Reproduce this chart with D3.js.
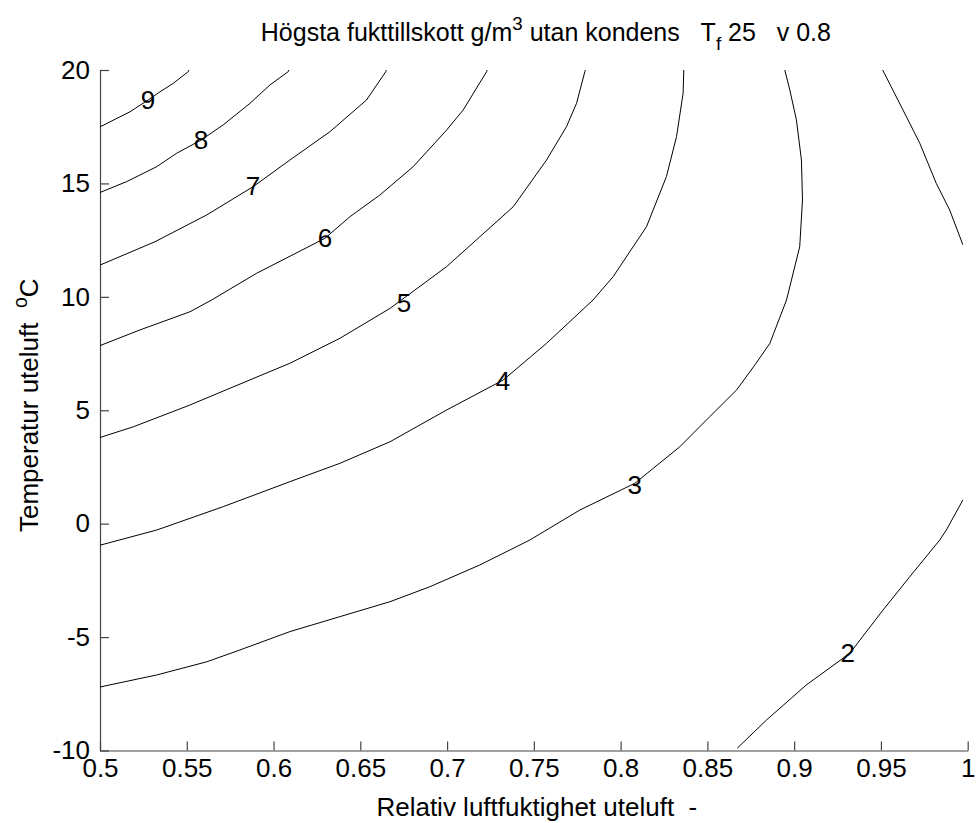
<!DOCTYPE html>
<html>
<head>
<meta charset="utf-8">
<script src="https://cdn.jsdelivr.net/npm/d3@7"></script>
<style>
  html, body { margin: 0; padding: 0; background: #fff; }
  svg { display: block; }
  text { font-family: "Liberation Sans", Arial, Helvetica, sans-serif; fill: #000; }
</style>
</head>
<body>
<svg id="chart" width="976" height="823"></svg>
<script>
// ---------- data ----------
const xTicks = [0.5, 0.55, 0.6, 0.65, 0.7, 0.75, 0.8, 0.85, 0.9, 0.95, 1.0];
const xTickLabels = ["0.5", "0.55", "0.6", "0.65", "0.7", "0.75", "0.8", "0.85", "0.9", "0.95", "1"];
const yTicks = [-10, -5, 0, 5, 10, 15, 20];
const yTickLabels = ["-10", "-5", "0", "5", "10", "15", "20"];

// contour lines: [relative humidity, outdoor temperature]
const level9 = [[0.5, 17.5], [0.5023, 17.58], [0.5173, 18.16], [0.5278, 18.68], [0.5346, 19.04], [0.5422, 19.41], [0.5509, 19.93], [0.5512, 20]];
const level8 = [[0.5, 14.6], [0.5154, 15.08], [0.5327, 15.74], [0.5442, 16.33], [0.5582, 16.91], [0.5710, 17.58], [0.5864, 18.53], [0.5979, 19.34], [0.6085, 19.93], [0.6088, 20]];
const level7 = [[0.5, 11.4], [0.5317, 12.43], [0.5615, 13.61], [0.5883, 14.86], [0.6094, 16.03], [0.6325, 17.28], [0.6536, 18.68], [0.6647, 19.93], [0.665, 20]];
const level6 = [[0.5, 7.85], [0.5230, 8.54], [0.5518, 9.34], [0.5643, 9.86], [0.5903, 11.04], [0.6296, 12.58], [0.6440, 13.53], [0.6613, 14.49], [0.6805, 15.74], [0.6997, 17.35], [0.7093, 18.24], [0.7228, 19.93], [0.7231, 20]];
const level5 = [[0.5, 3.8], [0.5192, 4.27], [0.5518, 5.23], [0.5749, 5.97], [0.6094, 7.07], [0.6382, 8.17], [0.6671, 9.49], [0.6815, 10.30], [0.6997, 11.33], [0.7189, 12.65], [0.7381, 13.97], [0.7573, 16.03], [0.7688, 17.50], [0.7746, 18.53], [0.7794, 19.93], [0.7797, 20]];
const level4 = [[0.5, -0.95], [0.5327, -0.28], [0.5710, 0.75], [0.6094, 1.85], [0.6382, 2.66], [0.6671, 3.61], [0.6997, 5.01], [0.7323, 6.33], [0.7573, 7.95], [0.7841, 9.86], [0.7957, 10.89], [0.8149, 13.09], [0.8264, 15.30], [0.8322, 17.06], [0.8360, 18.97], [0.8364, 20]];
const level3 = [[0.5, -7.2], [0.5327, -6.67], [0.5615, -6.09], [0.5806, -5.57], [0.6094, -4.76], [0.6382, -4.10], [0.6671, -3.44], [0.6901, -2.78], [0.7189, -1.82], [0.7477, -0.72], [0.7765, 0.60], [0.8082, 1.78], [0.8341, 3.39], [0.8514, 4.72], [0.8668, 5.89], [0.8773, 6.99], [0.8860, 7.95], [0.8956, 9.86], [0.9032, 12.21], [0.9048, 14.27], [0.9042, 16.03], [0.9013, 17.80], [0.8975, 19.12], [0.8946, 20]];
const level2a = [[0.9510, 20], [0.9627, 18.24], [0.9724, 16.77], [0.9819, 15.0], [0.9896, 13.83], [0.9972, 12.3]];
const level2b = [[0.8672, -9.9], [0.8840, -8.66], [0.9070, -7.11], [0.9320, -5.72], [0.9512, -3.81], [0.9666, -2.34], [0.9839, -0.72], [0.9877, -0.28], [0.9972, 1.04]];
const contourLines = [level9, level8, level7, level6, level5, level4, level3, level2a, level2b];

// inline contour labels
const labelLevels = ["9", "8", "7", "6", "5", "4", "3", "2"];
const labelRH = [0.5277, 0.5582, 0.5881, 0.6296, 0.6751, 0.7322, 0.8082, 0.9309];
const labelT = [18.68, 16.91, 14.89, 12.59, 9.73, 6.29, 1.70, -5.70];

// ---------- layout ----------
const svg = d3.select("#chart");
const m = { left: 100, top: 70, right: 976 - 967.7, bottom: 823 - 750.5 };
const W = 976 - m.left - m.right, H = 823 - m.top - m.bottom;
const FS = 26;
const TFS = 25;

const x = d3.scaleLinear().domain([0.5, 1]).range([0, W]);
const y = d3.scaleLinear().domain([-10, 20]).range([H, 0]);

const g = svg.append("g").attr("transform", `translate(${m.left},${m.top})`);

// axes (MATLAB-style, inward ticks, no box)
const xAxis = d3.axisBottom(x).tickValues(xTicks)
  .tickFormat((d, i) => xTickLabels[i]).tickSizeInner(-9).tickSizeOuter(0).tickPadding(8);
const yAxis = d3.axisLeft(y).tickValues(yTicks)
  .tickFormat((d, i) => yTickLabels[i]).tickSizeInner(-9).tickSizeOuter(0).tickPadding(10);

const gx = g.append("g").attr("transform", `translate(0,${H})`).call(xAxis);
const gy = g.append("g").call(yAxis);
[gx, gy].forEach(a => {
  a.selectAll("path.domain").attr("stroke", "#444").attr("stroke-width", 1.2);
  a.selectAll(".tick line").attr("stroke", "#444").attr("stroke-width", 1.2);
  a.selectAll(".tick text").attr("font-size", FS).attr("font-family", '"Liberation Sans", Arial, sans-serif').attr("fill", "#000");
});

// contours
const line = d3.line().x(d => x(d[0])).y(d => y(d[1]));
g.append("g").selectAll("path").data(contourLines).join("path")
  .attr("d", line).attr("fill", "none").attr("stroke", "#000").attr("stroke-width", 1);

// labels
g.append("g").selectAll("text").data(labelLevels).join("text")
  .attr("x", (d, i) => x(labelRH[i])).attr("y", (d, i) => y(labelT[i]))
  .attr("dy", "0.36em").attr("text-anchor", "middle").attr("font-size", FS).text(d => d);

// title
const title = svg.append("text").attr("x", m.left + W / 2 + 12).attr("y", 41)
  .attr("text-anchor", "middle").attr("font-size", TFS);
title.append("tspan").text("Högsta fukttillskott g/m");
title.append("tspan").attr("font-size", TFS * 0.75).attr("dy", -11).text("3");
title.append("tspan").attr("dy", 11).text(" utan kondens\u00a0\u00a0\u00a0T");
title.append("tspan").attr("font-size", TFS * 0.75).attr("dy", 9).text("f");
title.append("tspan").attr("dy", -9).text(" 25\u00a0\u00a0\u00a0v\u00a00.8");

// x label
svg.append("text").attr("x", m.left + W / 2 + 3).attr("y", 816)
  .attr("text-anchor", "middle").attr("font-size", FS).text("Relativ luftfuktighet uteluft\u00a0\u00a0-");

// y label
const yl = svg.append("text").attr("transform", `translate(38,${m.top + H / 2 - 5}) rotate(-90)`)
  .attr("text-anchor", "middle").attr("font-size", FS);
yl.append("tspan").text("Temperatur uteluft\u00a0\u00a0");
yl.append("tspan").attr("font-size", FS * 0.75).attr("dy", -11).text("o");
yl.append("tspan").attr("dy", 11).text("C");
</script>
</body>
</html>
